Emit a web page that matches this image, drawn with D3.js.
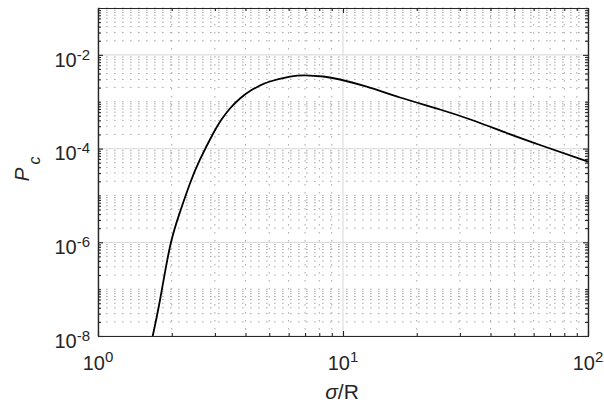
<!DOCTYPE html>
<html>
<head>
<meta charset="utf-8">
<script src="https://cdn.jsdelivr.net/npm/d3@7"></script>
<style>
  body { margin: 0; background: #fff; }
  text { font-family: "Liberation Sans", Arial, Helvetica, sans-serif; fill: #262626; }
</style>
</head>
<body>
<div id="chart"></div>
<script>
// values
var sigmaR = [1.672, 1.791, 1.967, 2.161, 2.375, 2.609, 2.955, 3.198, 3.457, 3.799, 4.173,
              4.585, 5.036, 6.077, 6.998, 8.311, 9.722, 12.5, 17.09, 24.88, 34.03, 46.57,
              63.7, 100];
var pc = [1.0e-8, 5.86e-8, 8.05e-7, 4.43e-6, 1.815e-5, 5.85e-5, 2.12e-4, 4.21e-4, 7.17e-4,
          1.171e-3, 1.693e-3, 2.218e-3, 2.699e-3, 3.419e-3, 3.664e-3, 3.452e-3, 2.979e-3,
          2.091e-3, 1.23e-3, 6.82e-4, 3.97e-4, 2.15e-4, 1.192e-4, 5.25e-5];

var xMajor = [1, 10, 100];
var xMinor = [2, 3, 4, 5, 6, 7, 8, 9, 20, 30, 40, 50, 60, 70, 80, 90];
var xExp = ["0", "1", "2"];
var yMajor = [1e-8, 1e-6, 1e-4, 1e-2];
var yExp = ["-8", "-6", "-4", "-2"];
var yMinor = [];
[-8, -7, -6, -5, -4, -3, -2].forEach(function (e) {
  for (var m = 2; m <= 9; m++) yMinor.push(m * Math.pow(10, e));
  if (e % 2 !== 0) yMinor.push(Math.pow(10, e));
});
yMinor.push(1e-1);

var W = 604, H = 404;
var padL = 98, padR = 588, padT = 8, padB = 336;

var x = d3.scaleLog().domain([1, 100]).range([padL, padR]);
var y = d3.scaleLog().domain([1e-8, 1e-1]).range([padB, padT]);

var svg = d3.select("#chart").append("svg")
    .attr("width", W)
    .attr("height", H);

svg.append("rect").attr("width", W).attr("height", H).attr("fill", "#fff");

// grid
var grid = svg.append("g");
grid.selectAll("line.xminor").data(xMinor).enter().append("line")
    .attr("x1", function (d) { return x(d); })
    .attr("x2", function (d) { return x(d); })
    .attr("y1", padT).attr("y2", padB)
    .attr("stroke", "#a9a9a9").attr("stroke-dasharray", "1.6,6.4");
grid.selectAll("line.yminor").data(yMinor).enter().append("line")
    .attr("y1", function (d) { return y(d); })
    .attr("y2", function (d) { return y(d); })
    .attr("x1", padL).attr("x2", padR)
    .attr("stroke", "#a9a9a9").attr("stroke-dasharray", "1.6,6.4");
grid.selectAll("line.xmajor").data(xMajor).enter().append("line")
    .attr("x1", function (d) { return x(d); })
    .attr("x2", function (d) { return x(d); })
    .attr("y1", padT).attr("y2", padB)
    .attr("stroke", "#dedede").attr("stroke-width", 1.2);
grid.selectAll("line.ymajor").data(yMajor).enter().append("line")
    .attr("y1", function (d) { return y(d); })
    .attr("y2", function (d) { return y(d); })
    .attr("x1", padL).attr("x2", padR)
    .attr("stroke", "#dedede").attr("stroke-width", 1.2);

// curve
var line = d3.line()
    .x(function (d, i) { return x(sigmaR[i]); })
    .y(function (d, i) { return y(pc[i]); })
    .curve(d3.curveNatural);

svg.append("path")
    .datum(pc)
    .attr("d", line)
    .attr("fill", "none")
    .attr("stroke", "#000")
    .attr("stroke-width", 1.8);

// axes: inside ticks on all four sides
function ticks(gen, tr, vals, len) {
  var g = svg.append("g")
      .attr("transform", tr)
      .call(gen.tickValues(vals).tickSize(-len).tickSizeOuter(0).tickFormat(""));
  g.select(".domain").attr("stroke", "#262626").attr("stroke-width", 1.2);
  g.selectAll(".tick line").attr("stroke", "#262626").attr("stroke-width", 1.1);
}
ticks(d3.axisBottom(x), "translate(0," + padB + ")", xMinor, 3);
ticks(d3.axisBottom(x), "translate(0," + padB + ")", xMajor, 5);
ticks(d3.axisTop(x), "translate(0," + padT + ")", xMinor, 3);
ticks(d3.axisTop(x), "translate(0," + padT + ")", xMajor, 5);
ticks(d3.axisLeft(y), "translate(" + padL + ",0)", yMinor, 3);
ticks(d3.axisLeft(y), "translate(" + padL + ",0)", yMajor, 5);
ticks(d3.axisRight(y), "translate(" + padR + ",0)", yMinor, 3);
ticks(d3.axisRight(y), "translate(" + padR + ",0)", yMajor, 5);

// tick labels
var xl = svg.selectAll("text.xl").data(xMajor).enter().append("text")
    .attr("x", function (d) { return x(d); })
    .attr("y", 370)
    .attr("text-anchor", "middle")
    .style("font-size", "20px");
xl.append("tspan").text("10");
xl.append("tspan").attr("dy", -8).style("font-size", "15px")
    .text(function (d, i) { return xExp[i]; });

var yl = svg.selectAll("text.yl").data(yMajor).enter().append("text")
    .attr("x", 90)
    .attr("y", function (d) { return y(d) + 11.7; })
    .attr("text-anchor", "end")
    .style("font-size", "20px");
yl.append("tspan").text("10");
yl.append("tspan").attr("dy", -7).style("font-size", "15px")
    .text(function (d, i) { return yExp[i]; });

// axis labels
var xt = svg.append("text")
    .attr("x", 342).attr("y", 399)
    .attr("text-anchor", "middle")
    .style("font-size", "21px");
xt.append("tspan").style("font-style", "italic").text("σ");
xt.append("tspan").text("/R");

var yt = svg.append("text")
    .attr("transform", "translate(29,169) rotate(-90)")
    .attr("text-anchor", "middle")
    .style("font-size", "21px")
    .style("font-style", "italic");
yt.append("tspan").text("P");
yt.append("tspan").attr("dx", 3).attr("dy", 11).style("font-size", "16px").text("c");
</script>
</body>
</html>
